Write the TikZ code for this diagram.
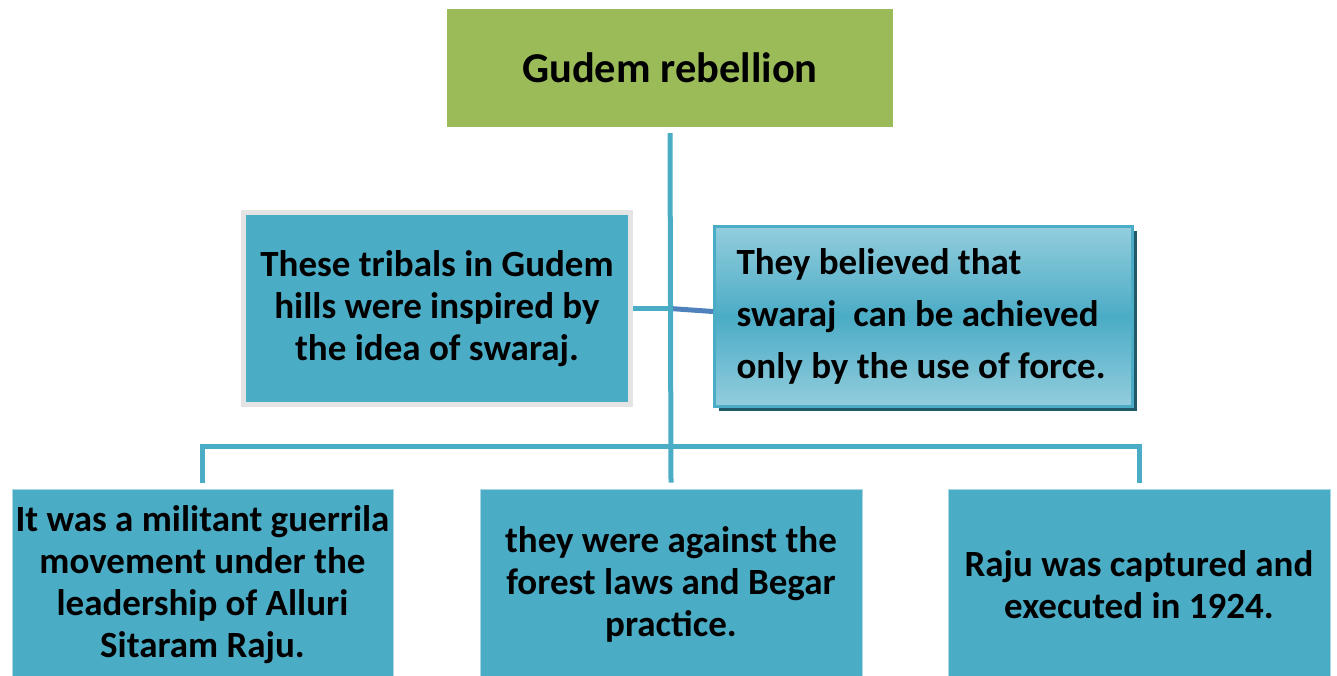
\documentclass[tikz,border=0pt]{standalone}
\usepackage{fontspec}
\setmainfont{Carlito}
\usetikzlibrary{shadows}
\definecolor{titelgruen}{HTML}{9BBB59}
\definecolor{kastenblau}{HTML}{4BACC6}
\definecolor{hellblau}{HTML}{93CDDD}
\definecolor{schattenblau}{HTML}{215968}
\definecolor{linienblau}{HTML}{4F81BD}
\definecolor{randgrau}{HTML}{E4E4E4}
\definecolor{randblau}{HTML}{A9D6E3}
\begin{document}
\begin{tikzpicture}[x=1pt, y=-1pt,
        kasten/.style={fill=kastenblau, draw=randblau, line width=1pt, inner sep=0pt,
            align=center, font=\bfseries\fontsize{37}{42}\selectfont},
        linie/.style={draw=kastenblau, line width=5pt}]
        \useasboundingbox (0,0) rectangle (1337,675);
        % Titel
        \node [fill=titelgruen, minimum width=446pt, minimum height=118pt,
            font=\bfseries\fontsize{42.5}{50}\selectfont] (titel) at (670, 68) {Gudem rebellion};
        % mittlere Kaesten
        \node [kasten, draw=randgrau, line width=5pt, minimum width=387pt, minimum height=192pt]
            (tribals) at (437, 308.5) {These tribals in Gudem\\hills were inspired by\\the idea of swaraj.};
        \node [kasten, draw=kastenblau, line width=3pt, minimum width=418pt, minimum height=180pt,
            top color=hellblau, bottom color=hellblau, middle color=kastenblau,
            drop shadow={shadow xshift=4pt, shadow yshift=-4pt, fill=schattenblau, opacity=1},
            text width=374pt, align=flush left, font=\bfseries\fontsize{37}{52}\selectfont]
            (belief) at (923.5, 316.5) {They believed that\\swaraj~ can be achieved\\only by the use of force.};
        % untere Kaesten
        \node [kasten, minimum width=381pt, minimum height=191pt] (guerrilla) at (202.5, 584.5)
            {It was a militant guerrila\\movement under the\\leadership of Alluri\\Sitaram Raju.};
        \node [kasten, minimum width=382pt, minimum height=191pt] (forest) at (671, 584.5)
            {they were against the\\forest laws and Begar\\practice.};
        \node [kasten, minimum width=382pt, minimum height=191pt] (captured) at (1139, 584.5)
            {Raju was captured and\\executed in 1924.};
        % Verbindungen
        \coordinate (bar) at (670, 446);
        \draw [draw=linienblau, line width=5pt] (tribals.east -| titel.south) -- ([yshift=5pt]belief.west);
        \draw [linie] (tribals.east) -- (tribals.east -| titel.south);
        \draw [linie] ([yshift=-6pt]titel.south) -- ([yshift=6pt]forest.north);
        \draw [linie] ([yshift=6pt]guerrilla.north) -- (guerrilla.north |- bar)
            -- (captured.north |- bar) -- ([yshift=6pt]captured.north);
    \end{tikzpicture}
\end{document}
